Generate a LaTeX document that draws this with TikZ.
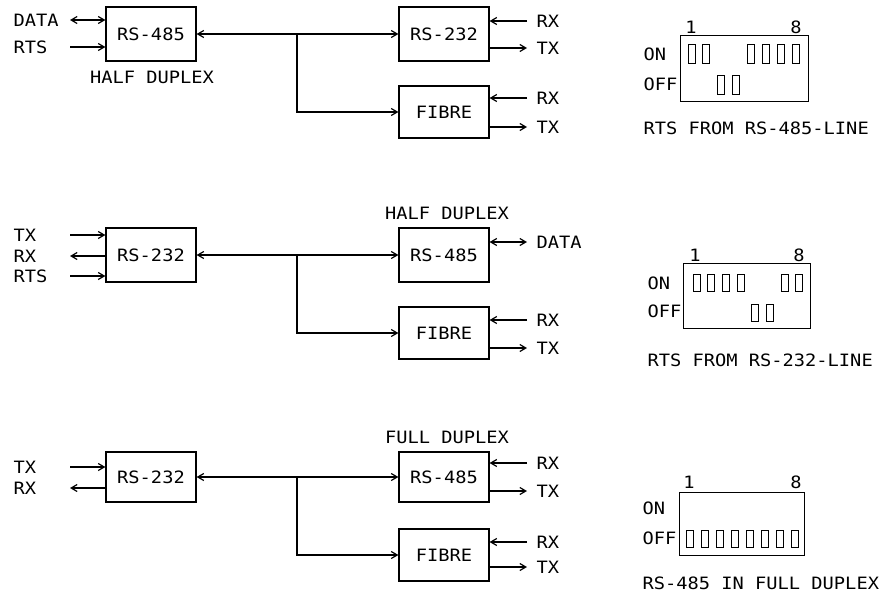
\documentclass[tikz,border=0pt]{standalone}
\usepackage{fontspec}
\setmainfont[FakeStretch=1.1]{DejaVu Sans Mono}
\usetikzlibrary{arrows.meta}
\newcommand\dfont{\fontsize{17}{20}\selectfont}
\begin{document}
\begin{tikzpicture}[x=1pt,y=-1pt,line width=1.2pt,
  box/.style={draw,rectangle,minimum width=90pt,inner sep=0pt,font=\dfont},
  lbl/.style={font=\dfont,inner sep=0pt},
  lblw/.style={lbl,anchor=west},
  arr/.style={-{Straight Barb[length=6pt,width=7pt]}},
  arrb/.style={{Straight Barb[length=6pt,width=7pt]}-{Straight Barb[length=6pt,width=7pt]}},
  dipbox/.style={draw,rectangle,inner sep=0pt,anchor=north west},
  sw/.style={line width=0.9pt}]
\useasboundingbox (0,0) rectangle (885,595);

% ---------------- Section 1 ----------------
\node[box,minimum height=54pt] (a1) at (151,34) {RS-485};
\node[box,minimum height=54pt] (b1) at (444,34) {RS-232};
\node[box,minimum height=52pt] (c1) at (444,112) {FIBRE};
\node[lbl] (t1) at (152,77) {HALF DUPLEX};
\node[lblw] (ldata1) at (13,20) {DATA};
\node[lblw] (lrts1) at (13,47) {RTS};
\coordinate (pdata1) at (70,20);
\coordinate (prts1) at (70,47);
\draw[arrb] (pdata1) -- (pdata1 -| a1.west);
\draw[arr] (prts1) -- (prts1 -| a1.west);
\coordinate (j1) at (297,34);
\draw[arr] (j1) -- (a1.east);
\draw[arr] (j1) -- (b1.west);
\draw[arr] (j1) |- (c1.west);
\coordinate (prx1) at (527,21);
\coordinate (ptx1) at (527,48);
\coordinate (prx1f) at (527,98);
\coordinate (ptx1f) at (527,127);
\draw[arr] (prx1) -- (prx1 -| b1.east);
\draw[arr] (ptx1 -| b1.east) -- (ptx1);
\draw[arr] (prx1f) -- (prx1f -| c1.east);
\draw[arr] (ptx1f -| c1.east) -- (ptx1f);
\node[lblw] (rx1) at (536,21) {RX};
\node[lblw] (tx1) at (536,48) {TX};
\node[lblw] (rx1f) at (536,98) {RX};
\node[lblw] (tx1f) at (536,127) {TX};

% ---------------- Section 2 ----------------
\node[box,minimum height=54pt] (a2) at (151,255) {RS-232};
\node[box,minimum height=54pt] (b2) at (444,255) {RS-485};
\node[box,minimum height=52pt] (c2) at (444,333) {FIBRE};
\node[lbl] (t2) at (447,213) {HALF DUPLEX};
\node[lblw] (ltx2) at (13,235) {TX};
\node[lblw] (lrx2) at (13,256) {RX};
\node[lblw] (lrts2) at (13,276) {RTS};
\coordinate (ptx2) at (70,235);
\coordinate (prx2) at (70,256);
\coordinate (prts2) at (70,276);
\draw[arr] (ptx2) -- (ptx2 -| a2.west);
\draw[arr] (prx2 -| a2.west) -- (prx2);
\draw[arr] (prts2) -- (prts2 -| a2.west);
\coordinate (j2) at (297,255);
\draw[arr] (j2) -- (a2.east);
\draw[arr] (j2) -- (b2.west);
\draw[arr] (j2) |- (c2.west);
\coordinate (pdata2) at (527,242);
\draw[arrb] (pdata2 -| b2.east) -- (pdata2);
\node[lblw] (data2) at (536,242) {DATA};
\coordinate (prx2f) at (527,320);
\coordinate (ptx2f) at (527,348);
\draw[arr] (prx2f) -- (prx2f -| c2.east);
\draw[arr] (ptx2f -| c2.east) -- (ptx2f);
\node[lblw] (rx2f) at (536,320) {RX};
\node[lblw] (tx2f) at (536,348) {TX};

% ---------------- Section 3 ----------------
\node[box,minimum height=50pt] (a3) at (151,477) {RS-232};
\node[box,minimum height=50pt] (b3) at (444,477) {RS-485};
\node[box,minimum height=52pt] (c3) at (444,555) {FIBRE};
\node[lbl] (t3) at (447,437) {FULL DUPLEX};
\node[lblw] (ltx3) at (13,467) {TX};
\node[lblw] (lrx3) at (13,488) {RX};
\coordinate (ptx3) at (70,467);
\coordinate (prx3) at (70,488);
\draw[arr] (ptx3) -- (ptx3 -| a3.west);
\draw[arr] (prx3 -| a3.west) -- (prx3);
\coordinate (j3) at (297,477);
\draw[arr] (j3) -- (a3.east);
\draw[arr] (j3) -- (b3.west);
\draw[arr] (j3) |- (c3.west);
\coordinate (prx3r) at (527,463);
\coordinate (ptx3r) at (527,491);
\coordinate (prx3f) at (527,542);
\coordinate (ptx3f) at (527,567);
\draw[arr] (prx3r) -- (prx3r -| b3.east);
\draw[arr] (ptx3r -| b3.east) -- (ptx3r);
\draw[arr] (prx3f) -- (prx3f -| c3.east);
\draw[arr] (ptx3f -| c3.east) -- (ptx3f);
\node[lblw] (rx3) at (536,463) {RX};
\node[lblw] (tx3) at (536,491) {TX};
\node[lblw] (rx3f) at (536,542) {RX};
\node[lblw] (tx3f) at (536,567) {TX};

% ---------------- DIP switch 1 ----------------
\node[dipbox,minimum width=128pt,minimum height=66pt] (dip1) at (680,35) {};
\node[lbl] (d1a) at (691,27) {1};
\node[lbl] (d1b) at (796,27) {8};
\node[lblw] (d1on) at (643,54) {ON};
\node[lblw] (d1off) at (643,84) {OFF};
\node[lblw] (d1cap) at (643,128) {RTS FROM RS-485-LINE};
\foreach \i in {1,2,5,6,7,8} \draw[sw] ({688+14.9*(\i-1)},44) rectangle +(7,19);
\foreach \i in {3,4} \draw[sw] ({688+14.9*(\i-1)},75) rectangle +(7,19);

% ---------------- DIP switch 2 ----------------
\node[dipbox,minimum width=127pt,minimum height=65pt] (dip2) at (683,263) {};
\node[lbl] (d2a) at (695,255) {1};
\node[lbl] (d2b) at (799,255) {8};
\node[lblw] (d2on) at (647,283) {ON};
\node[lblw] (d2off) at (647,311) {OFF};
\node[lblw] (d2cap) at (647,360) {RTS FROM RS-232-LINE};
\foreach \i in {1,2,3,4,7,8} \draw[sw] ({693+14.7*(\i-1)},274) rectangle +(7,17);
\foreach \i in {5,6} \draw[sw] ({693+14.7*(\i-1)},304) rectangle +(7,17);

% ---------------- DIP switch 3 ----------------
\node[dipbox,minimum width=125pt,minimum height=63pt] (dip3) at (679,492) {};
\node[lbl] (d3a) at (689,482) {1};
\node[lbl] (d3b) at (796,482) {8};
\node[lblw] (d3on) at (642,508) {ON};
\node[lblw] (d3off) at (642,538) {OFF};
\node[lblw] (d3cap) at (642,583) {RS-485 IN FULL DUPLEX};
\foreach \i in {1,...,8} \draw[sw] ({686+15*(\i-1)},530) rectangle +(7,17);
\end{tikzpicture}
\end{document}
